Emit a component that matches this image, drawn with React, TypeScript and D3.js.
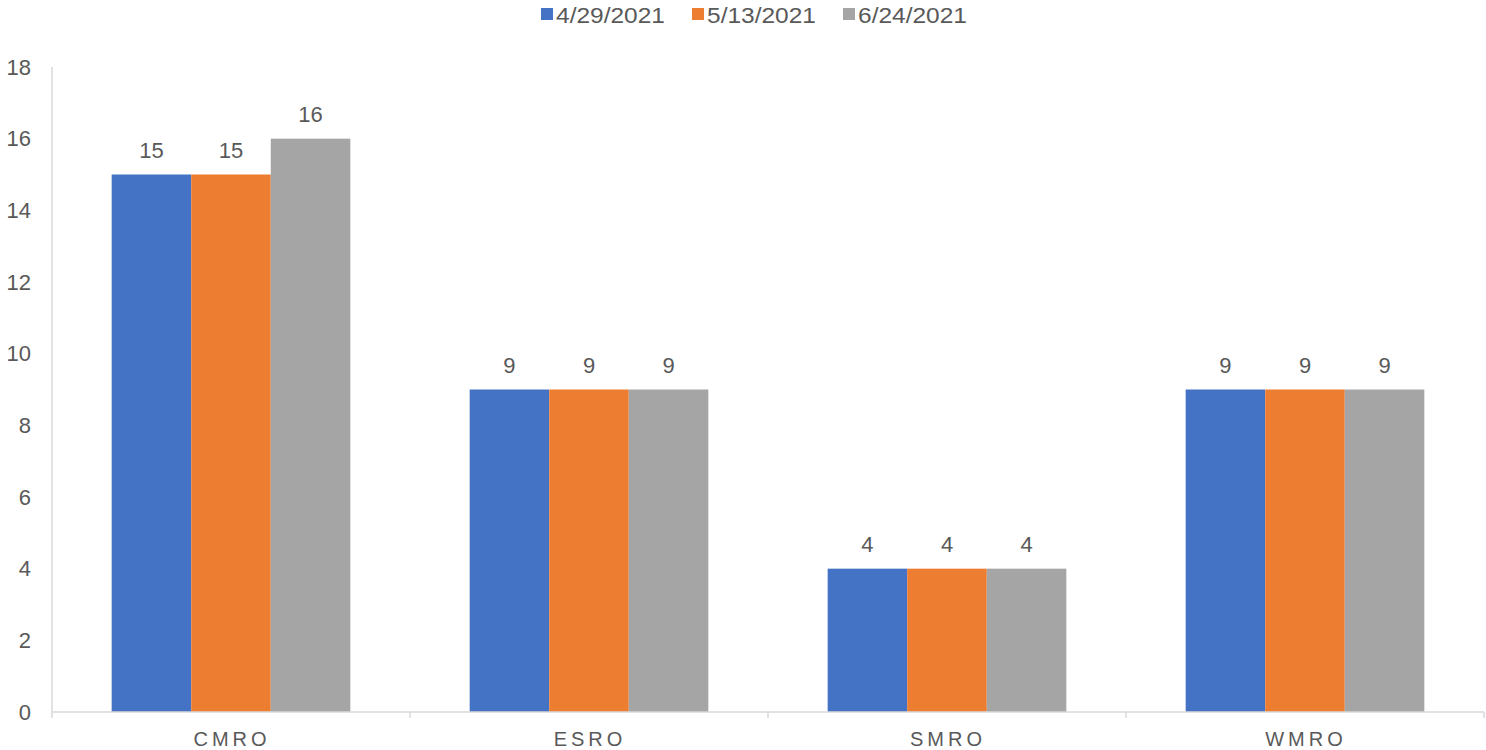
import React from "react";
import * as d3 from "d3";

const categories = ["CMRO", "ESRO", "SMRO", "WMRO"];
const seriesNames = ["4/29/2021", "5/13/2021", "6/24/2021"];
const seriesA = [15, 9, 4, 9];
const seriesB = [15, 9, 4, 9];
const seriesC = [16, 9, 4, 9];
const colors = ["#4472C4", "#ED7D31", "#A5A5A5"];
const yTicks = [0, 2, 4, 6, 8, 10, 12, 14, 16, 18];

const W = 1486;
const H = 750;
const left = 52;
const right = 1484;
const top = 67;
const bottom = 712;
const font = "'Liberation Sans', Arial, sans-serif";

export default function App() {
  const series = [seriesA, seriesB, seriesC];
  const x = d3.scaleBand<string>().domain(categories).range([left, right]).paddingInner(0).paddingOuter(0);
  const inner = d3.scaleBand<number>().domain([0, 1, 2]).range([0, x.bandwidth()]).paddingOuter(0.75).paddingInner(0);
  const y = d3.scaleLinear().domain([0, 18]).range([bottom, top]);
  const legendX = [541, 692, 843];
  return (
    <svg width={W} height={H} style={{ position: "absolute", left: 0, top: 0 }} fontFamily={font}>
      <rect x={0} y={0} width={W} height={H} fill="#fff" />
      {/* legend */}
      {seriesNames.map((n, i) => (
        <g key={n}>
          <rect x={legendX[i]} y={8} width={12} height={12} fill={colors[i]} />
          <text x={legendX[i] + 15} y={22.5} fontSize={22} fill="#595959" textLength={109} lengthAdjust="spacingAndGlyphs">{n}</text>
        </g>
      ))}
      {/* y axis */}
      <line x1={left} x2={left} y1={top} y2={bottom} stroke="#d9d9d9" strokeWidth={1.5} />
      {yTicks.map((t) => (
        <text key={t} x={31} y={y(t) + 7.5} fontSize={22} fill="#595959" textAnchor="end">{t}</text>
      ))}
      {/* bars */}
      {categories.map((c, ci) =>
        series.map((s, si) => {
          const bx = (x(c) as number) + (inner(si) as number);
          const v = s[ci];
          return (
            <g key={c + si}>
              <rect x={bx} y={y(v)} width={inner.bandwidth()} height={bottom - y(v)} fill={colors[si]} />
              <text x={bx + inner.bandwidth() / 2} y={y(v) - 17} fontSize={22} fill="#595959" textAnchor="middle">{v}</text>
            </g>
          );
        })
      )}
      {/* x axis */}
      <line x1={left} x2={right} y1={bottom} y2={bottom} stroke="#d9d9d9" strokeWidth={1.5} />
      {[...categories.map((c) => x(c) as number), right].map((px, i) => (
        <line key={i} x1={px} x2={px} y1={bottom} y2={bottom + 6} stroke="#d9d9d9" strokeWidth={1.5} />
      ))}
      {categories.map((c) => (
        <text key={c} x={(x(c) as number) + x.bandwidth() / 2 + 1} y={746} fontSize={20} fill="#595959" textAnchor="middle" letterSpacing={4}>{c}</text>
      ))}
    </svg>
  );
}
